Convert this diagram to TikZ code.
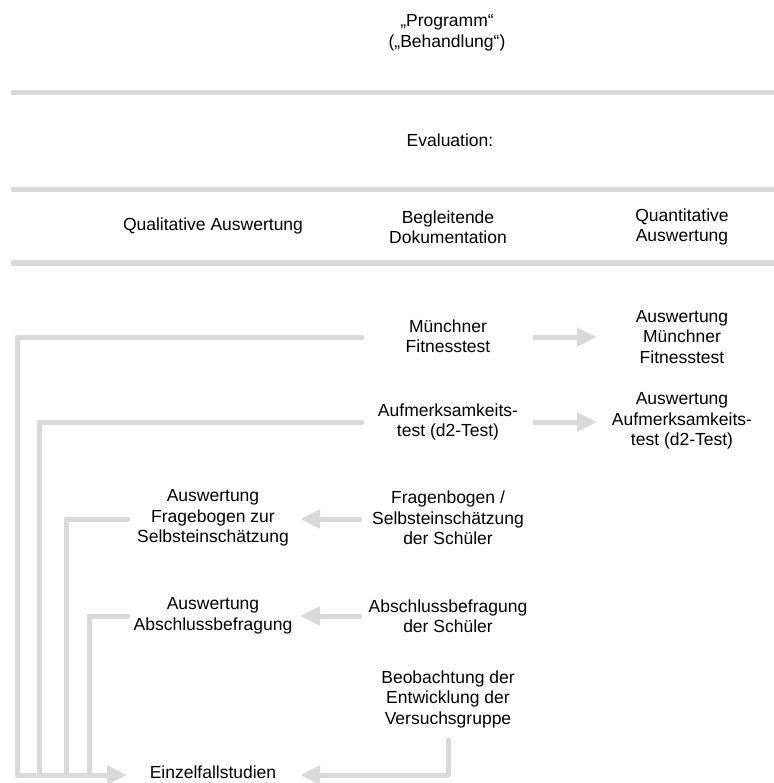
\documentclass[tikz,border=0pt]{standalone}
\usepackage{fontspec}
\setmainfont{Liberation Sans}
\usetikzlibrary{arrows.meta}
\definecolor{linegray}{HTML}{D9D9D9}
\tikzset{
  lbl/.style={align=center, inner sep=2pt, font=\fontsize{17.5}{20.5}\selectfont, text=black},
  bar/.style={draw=linegray, line width=5pt, line cap=round},
  conn/.style={draw=linegray, line width=5pt, line join=round, line cap=round},
  arr/.style={draw=linegray, line width=5pt, line cap=butt, -{Triangle[length=20pt,width=18pt]}},
}
\begin{document}
\begin{tikzpicture}[x=1pt,y=-1pt]
\useasboundingbox (0,0) rectangle (773,783);
% headings
\node[lbl] (prog) at (447,33) {„Programm“\\(„Behandlung“)};
\node[lbl] (eval) at (450,140) {Evaluation:};
\node[lbl] (qual) at (213,226) {Qualitative Auswertung};
\node[lbl] (begl) at (448,227) {Begleitende\\Dokumentation};
\node[lbl] (quant) at (682,227) {Quantitative\\Auswertung};
% bars
\coordinate (b1l) at (13,93);  \coordinate (b1r) at (776,93);
\coordinate (b2l) at (13,190); \coordinate (b2r) at (776,190);
\coordinate (b3l) at (13,263); \coordinate (b3r) at (776,263);
\draw[bar] (b1l) -- (b1r);
\draw[bar] (b2l) -- (b2r);
\draw[bar] (b3l) -- (b3r);
% nodes
\node[lbl] (mft) at (448,336) {Münchner\\Fitnesstest};
\node[lbl] (amft) at (682,337) {Auswertung\\Münchner\\Fitnesstest};
\node[lbl] (d2) at (448,422) {Aufmerksamkeits-\\test (d2-Test)};
\node[lbl] (ad2) at (682,421) {Auswertung\\Aufmerksamkeits-\\test (d2-Test)};
\node[lbl] (frag) at (448,518) {Fragenbogen /\\Selbsteinschätzung\\der Schüler};
\node[lbl] (afrag) at (213,518) {Auswertung\\Fragebogen zur\\Selbsteinschätzung};
\node[lbl] (absch) at (448,616) {Abschlussbefragung\\der Schüler};
\node[lbl] (aabsch) at (213,616) {Auswertung\\Abschlussbefragung};
\node[lbl] (beob) at (448,699) {Beobachtung der\\Entwicklung der\\Versuchsgruppe};
\node[lbl, inner sep=1pt] (einz) at (213,772) {Einzelfallstudien};
% connector points
\coordinate (r1s) at (533,337); \coordinate (r1e) at (597,337);
\coordinate (r2s) at (533,422); \coordinate (r2e) at (597,422);
\coordinate (l3s) at (362,519); \coordinate (l3e) at (300,519);
\coordinate (l4s) at (362,616); \coordinate (l4e) at (300,616);
\coordinate (m1) at (362,337);
\coordinate (m2) at (362,422);
\coordinate (m3) at (128,519);
\coordinate (m4) at (128,616);
\coordinate (v1) at (17,775);
\coordinate (v2) at (39,775);
\coordinate (v3) at (66,775);
\coordinate (v4) at (89,775);
\coordinate (bt) at (127,775);
\coordinate (ob) at (448,740);
\coordinate (oc) at (448,775);
\coordinate (ot) at (300,775);
% arrows to the right
\draw[arr] (r1s) -- (r1e);
\draw[arr] (r2s) -- (r2e);
% arrows to the left
\draw[arr] (l3s) -- (l3e);
\draw[arr] (l4s) -- (l4e);
% collecting lines
\draw[conn] (m1) -| (v1);
\draw[conn] (m2) -| (v2);
\draw[conn] (m3) -| (v3);
\draw[conn] (m4) -| (v4);
\draw[arr] (v1) -- (bt);
\draw[conn] (ob) -- (oc);
\draw[arr] (oc) -- (ot);
\end{tikzpicture}
\end{document}
